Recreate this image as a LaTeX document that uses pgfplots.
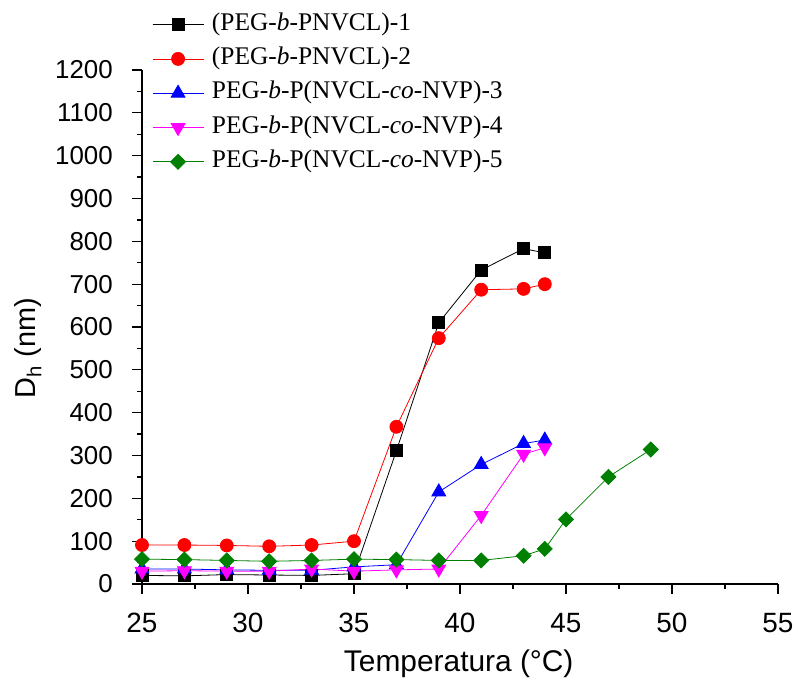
\documentclass[border=0pt]{standalone}
\usepackage{fontspec}
\setmainfont{Liberation Sans}
\newfontfamily\seriffont{Liberation Serif}
\usepackage{pgfplots}
\pgfplotsset{compat=1.18}
\definecolor{dgreen}{RGB}{0,128,0}
\definecolor{mred}{RGB}{255,0,0}
\definecolor{mblue}{RGB}{0,0,255}
\definecolor{mmag}{RGB}{255,0,255}
\begin{document}
\begin{tikzpicture}
\begin{axis}[
  name=ax,
  scale only axis,
  width=636bp, height=514bp,
  xmin=25, xmax=55, ymin=0, ymax=1200,
  axis lines*=left,
  axis line style={line width=1.5bp},
  xtick={25,30,...,55}, ytick={0,100,...,1200},
  minor x tick num=1, minor y tick num=1,
  tick align=outside,
  major tick length=10bp, minor tick length=5bp,
  every tick/.style={line width=1.3bp, black},
  /pgf/number format/assume math mode=true,
  /pgf/number format/set thousands separator={},
  xticklabel style={font=\fontsize{28}{32}\selectfont, inner sep=0pt, anchor=north, yshift=-19bp},
  yticklabel style={font=\fontsize{26}{30}\selectfont, inner sep=0pt, anchor=east, xshift=-19bp},
  xlabel={Temperatura (°C)},
  ylabel={D\textsubscript{h} (nm)},
  xlabel style={font=\fontsize{30}{34}\selectfont, at={(axis description cs:0.498,-0.171)}, anchor=base},
  ylabel style={font=\fontsize{29}{34}\selectfont, at={(axis description cs:-0.168,0.459)}, anchor=base},
  legend style={at={(axis description cs:0.0157,1.113)}, anchor=north west, draw=none, fill=none,
     inner sep=0pt, column sep=8bp, row sep=9.3bp,
     nodes={inner sep=0pt, text height=18bp, text depth=7bp},
     font=\seriffont\fontsize{25.5}{30}\selectfont},
  legend cell align=left,
  legend image code/.code={\draw[mark repeat=2,mark phase=2] plot coordinates {(0bp,0bp) (25.5bp,0bp) (51bp,0bp)};},
  every axis plot/.append style={line width=0.8bp},
]
\addplot[black, mark=square*, mark size=6bp] coordinates {
 (25,20) (27,19) (29,22) (31,21) (33,20) (35,24) (37,311) (39,610) (41,733) (43,783) (44,773)};
\addlegendentry{(PEG-\textit{b}-PNVCL)-1}
\addplot[mred, mark=*, mark size=6.5bp] coordinates {
 (25,91) (27,91) (29,90) (31,88) (33,91) (35,100) (37,367) (39,574) (41,687) (43,689) (44,700)};
\addlegendentry{(PEG-\textit{b}-PNVCL)-2}
\addplot[mblue, mark=triangle*, mark size=8bp] coordinates {
 (25,35) (27,35) (29,33) (31,32) (33,32) (35,40) (37,45) (39,215) (41,279) (43,328) (44,336)};
\addlegendentry{PEG-\textit{b}-P(NVCL-\textit{co}-NVP)-3}
\addplot[mmag, mark=triangle*, mark size=8bp, mark options={rotate=180}] coordinates {
 (25,30) (27,31) (29,30) (31,30) (33,35) (35,30) (37,33) (39,35) (41,160) (43,303) (44,318)};
\addlegendentry{PEG-\textit{b}-P(NVCL-\textit{co}-NVP)-4}
\addplot[dgreen, mark=square*, mark size=5.3bp, mark options={rotate=45}] coordinates {
 (25,58) (27,57) (29,55) (31,53) (33,55) (35,58) (37,57) (39,55) (41,55) (43,66) (44,82) (45,151) (47,250) (49,314)};
\addlegendentry{PEG-\textit{b}-P(NVCL-\textit{co}-NVP)-5}
\end{axis}
\pgfresetboundingbox
\path ([shift={(-142bp,-97bp)}]ax.south west) rectangle ([shift={(18bp,70bp)}]ax.north east);
\end{tikzpicture}
\end{document}
